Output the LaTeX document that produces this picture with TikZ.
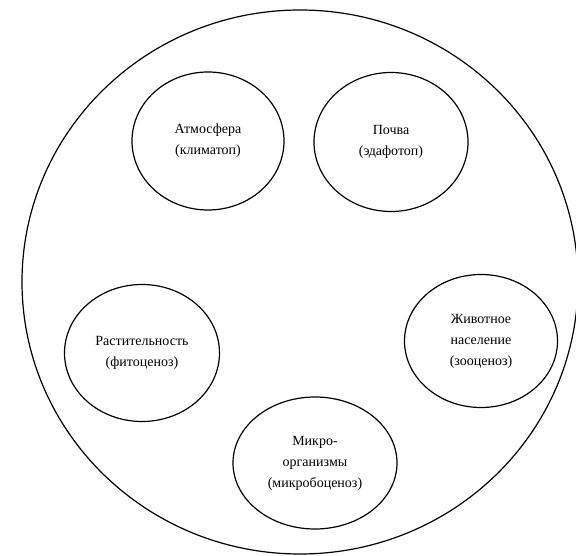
\documentclass[tikz,border=0pt]{standalone}
\usepackage{fontspec}
\setmainfont{Liberation Serif}
\usetikzlibrary{shapes.geometric}

\tikzset{
    part/.style={draw, ellipse, line width=1.2pt, inner sep=0pt, align=center,
        font=\fontsize{14}{21}\selectfont},
    whole/.style={draw, ellipse, line width=1.2pt, inner sep=0pt}
}

\begin{document}
\begin{tikzpicture}[x=1pt,y=-1pt]
        \useasboundingbox (0,0) rectangle (576,556);
        \node[whole, minimum width=556pt, minimum height=544pt] (eco) at (300,282) {};
        \node[part, minimum width=152pt, minimum height=138pt] (atm) at (208,141) {Атмосфера\\(климатоп)};
        \node[part, minimum width=154pt, minimum height=139pt] (soil) at (391,142) {Почва\\(эдафотоп)};
        \node[part, minimum width=155pt, minimum height=137pt] (phyto) at (142,353) {Растительность\\(фитоценоз)};
        \node[part, minimum width=153pt, minimum height=133pt] (zoo) at (481,341) {Животное\\население\\(зооценоз)};
        \node[part, minimum width=164pt, minimum height=132pt] (micro) at (315,463) {Микро-\\организмы\\(микробоценоз)};
    \end{tikzpicture}
\end{document}
